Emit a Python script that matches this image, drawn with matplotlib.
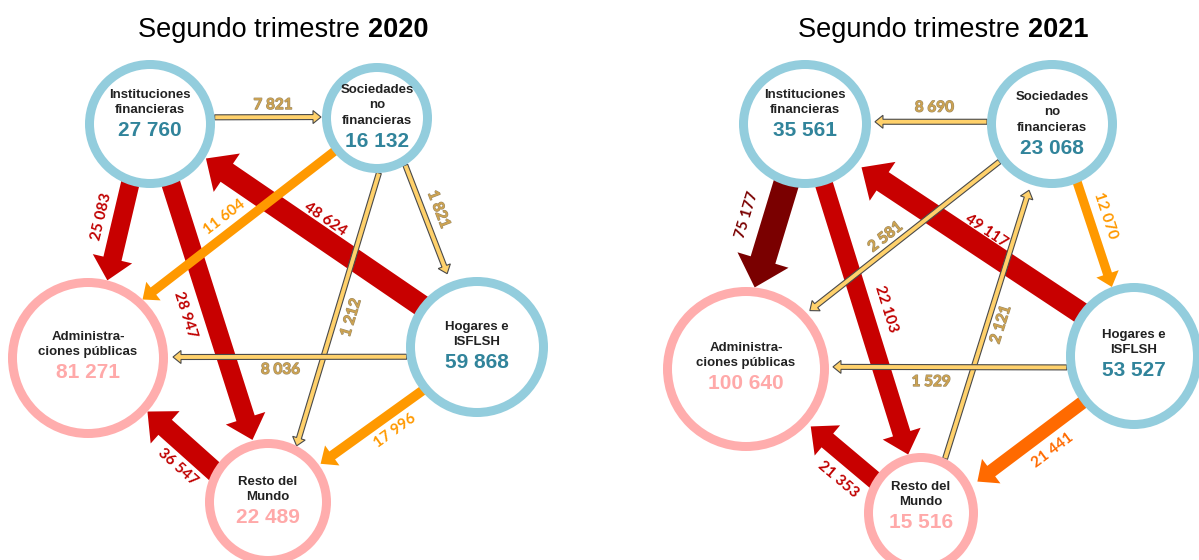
import numpy as np
import matplotlib
matplotlib.use("Agg")
import matplotlib.pyplot as plt
from matplotlib.patches import Ellipse, FancyArrow
import matplotlib.patheffects as pe

# ---------------- data ----------------
sector_codes = ["IF", "SNF", "HOG", "AP", "RM"]
sector_names = ["Instituciones\nfinancieras", "Sociedades\nno\nfinancieras",
                "Hogares e\nISFLSH", "Administra-\nciones públicas", "Resto del\nMundo"]
years = ["2020", "2021"]
title_text = "Segundo trimestre"

balance_2020 = [27760, 16132, 59868, 81271, 22489]
balance_2021 = [35561, 23068, 53527, 100640, 15516]

flow_src_2020 = ["IF", "SNF", "HOG", "IF", "IF", "SNF", "SNF", "HOG", "HOG", "RM"]
flow_dst_2020 = ["SNF", "AP", "IF", "AP", "RM", "HOG", "RM", "AP", "RM", "AP"]
flow_val_2020 = [7821, 11604, 48624, 25083, 28947, 1821, 1212, 8036, 17996, 36547]

flow_src_2021 = ["SNF", "IF", "IF", "HOG", "SNF", "RM", "SNF", "HOG", "HOG", "RM"]
flow_dst_2021 = ["IF", "AP", "RM", "IF", "AP", "SNF", "HOG", "AP", "RM", "AP"]
flow_val_2021 = [8690, 75177, 22103, 49117, 2581, 2121, 12070, 1529, 21441, 21353]

# ---------------- styles ----------------
flow_tone_2020 = ["thin", "orange", "red", "red", "red", "thin", "thin", "thin", "orange", "red"]
flow_tone_2021 = ["thin", "darkred", "red", "red", "thin", "thin", "orange", "thin", "orangered", "red"]

TONES = {
    "thin":      dict(fill="#FFD16B", edge="#4a4a4a", text="#CDA351", z=4),
    "orange":    dict(fill="#FF9900", edge="none", text="#FF9900", z=3),
    "orangered": dict(fill="#FF6A00", edge="none", text="#FF6A00", z=3),
    "red":       dict(fill="#C80000", edge="none", text="#C00000", z=2),
    "darkred":   dict(fill="#7A0000", edge="none", text="#7A0000", z=2),
}
RING_BLUE, RING_PINK = "#93CDDD", "#FFADAD"
VAL_BLUE, VAL_PINK = "#31849B", "#FFA9A9"
ring_color = {"IF": RING_BLUE, "SNF": RING_BLUE, "HOG": RING_BLUE, "AP": RING_PINK, "RM": RING_PINK}
value_color = {"IF": VAL_BLUE, "SNF": VAL_BLUE, "HOG": VAL_BLUE, "AP": VAL_PINK, "RM": VAL_PINK}


def shaft_width(tone, v):
    if tone == "thin":
        return 5.0
    if tone == "orange":
        return 8 + v / 10000
    if tone == "orangered":
        return 11 + v / 10000
    return 15 + v / 7000


# ---------------- layout (pixels) ----------------
LAYOUT = {
    "2020": dict(
        split_x=368,
        nodes={"IF": (150, 124, 65, 64), "SNF": (377, 118, 55, 55), "HOG": (477, 347, 71, 70),
               "AP": (88, 358, 80, 80), "RM": (268, 502, 63, 63)},
        text_y0={"IF": -29, "SNF": -28, "HOG": -20, "AP": -21, "RM": -20},
        # (angle on source, angle on target, gap start, gap end, label t, label dx, label dy)
        arrows=[(6, 179, 0, 1, 0.55, 0, -12),
                (-142, 47, -6, 0, 0.58, 0, -19),
                (143, -32, -6, 1, 0.455, 0, -21),
                (-108, 76, -6, 0, 0.37, -21, 0),
                (-71, 104, -6, 1, 0.52, -27, 0),
                (-59, 112, 0, 9, 0.41, 16, 0),
                (-88, 63, 0, 0, 0.53, 16, 0),
                (-172, 0.7, 0, 5, 0.54, 0, 13),
                (-141, 36, -6, 2, 0.30, 0, 20),
                (150, -42, -6, 0, 0.57, 0, 28)],
    ),
    "2021": dict(
        split_x=1028,
        nodes={"IF": (805, 124, 66, 64), "SNF": (1052, 124, 65, 64), "HOG": (1134, 356, 68, 73),
               "AP": (746, 369, 83, 82), "RM": (921, 513, 57, 60)},
        text_y0={"IF": -29, "SNF": -27, "HOG": -21, "AP": -21, "RM": -26},
        arrows=[(178, 2, 0, 4, 0.47, 0, -14),
                (-107, 84, -6, 0, 0.33, -29, 0),
                (-73, 103, -6, 0, 0.47, 23, 0),
                (143, -38.7, -6, 6, 0.44, 0, -19),
                (-144, 43, 0, 4, 0.60, 0, -14),
                (65, -109, 0, 6, 0.50, 14, 0),
                (-67, 109, -6, 0, 0.35, 17, 0),
                (-171, 1.5, 0, 4, 0.58, 0, 15),
                (-140, 27, -6, 7, 0.31, 0, 26),
                (146, -42, -6, 4, 0.60, 0, 30)],
    ),
}

DATA = {
    "2020": (balance_2020, flow_src_2020, flow_dst_2020, flow_val_2020, flow_tone_2020),
    "2021": (balance_2021, flow_src_2021, flow_dst_2021, flow_val_2021, flow_tone_2021),
}


def fmt(v):
    return f"{v:,}".replace(",", " ")


def ell_pt(node, ang):
    cx, cy, rx, ry = node
    a = np.radians(ang)
    return np.array([cx + rx * np.cos(a), cy - ry * np.sin(a)])


fig = plt.figure(figsize=(11.99, 5.6), dpi=100)
ax = fig.add_axes([0, 0, 1, 1])
ax.set_xlim(0, 1199)
ax.set_ylim(560, 0)
ax.axis("off")

TITLE_FONT = ["Liberation Sans", "DejaVu Sans"]
LABEL_FONT = ["Lato", "DejaVu Sans"]

for yr in years:
    lay = LAYOUT[yr]
    bal, srcs, dsts, vals, tones = DATA[yr]
    # title
    ax.text(lay["split_x"] - 8, 37, title_text, ha="right", va="baseline",
            fontsize=19.5, family=TITLE_FONT, color="black")
    ax.text(lay["split_x"], 37, yr, ha="left", va="baseline",
            fontsize=19.5, family=TITLE_FONT, fontweight="bold", color="black")

    # arrows
    for (s, d, v, tone, ar) in zip(srcs, dsts, vals, tones, lay["arrows"]):
        a_s, a_d, g0, g1, t, lx, ly = ar
        p0 = ell_pt(lay["nodes"][s], a_s)
        p1 = ell_pt(lay["nodes"][d], a_d)
        u = (p1 - p0) / np.linalg.norm(p1 - p0)
        st_pt = p0 + g0 * u
        en_pt = p1 - g1 * u
        dv = en_pt - st_pt
        st = TONES[tone]
        w = shaft_width(tone, v)
        if tone == "thin":
            hw, hl = 13, 8
            lw = 0.8
        else:
            hw = 1.8 * w + 7
            hl = 0.5 * hw + 2
            lw = 0
        arr = FancyArrow(st_pt[0], st_pt[1], dv[0], dv[1], width=w, head_width=hw,
                         head_length=hl, length_includes_head=True,
                         facecolor=st["fill"], edgecolor=st["edge"], linewidth=lw,
                         zorder=st["z"], joinstyle="miter")
        ax.add_patch(arr)
        # label
        pos = st_pt + t * dv + np.array([lx, ly])
        ang = np.degrees(np.arctan2(-dv[1], dv[0]))
        if ang > 90:
            ang -= 180
        elif ang <= -90:
            ang += 180
        kw = {}
        if tone == "thin":
            kw["path_effects"] = [pe.withStroke(linewidth=0.8, foreground="#9c8a66")]
        ax.text(pos[0], pos[1], fmt(v), rotation=ang, rotation_mode="anchor",
                ha="center", va="center", fontsize=11, family=LABEL_FONT,
                fontweight="bold", color=st["text"], zorder=8, **kw)

    # nodes
    for code, name, v in zip(sector_codes, sector_names, bal):
        cx, cy, rx, ry = lay["nodes"][code]
        ring = 9
        ax.add_patch(Ellipse((cx, cy), 2 * (rx - ring / 2), 2 * (ry - ring / 2),
                             facecolor="white", edgecolor=ring_color[code],
                             linewidth=ring * 0.72, zorder=5))
        lines = name.split("\n")
        y0 = cy + lay["text_y0"][code]
        for i, ln in enumerate(lines):
            ax.text(cx, y0 + i * 15.3, ln, ha="center", va="center", fontsize=9.5,
                    family=TITLE_FONT, fontweight="bold", color="#222222", zorder=6)
        ax.text(cx, y0 + (len(lines) - 1) * 15.3 + 20.5, fmt(v), ha="center", va="center",
                fontsize=15, family=TITLE_FONT, fontweight="bold",
                color=value_color[code], zorder=6)

fig.savefig("out.png", dpi=100)
